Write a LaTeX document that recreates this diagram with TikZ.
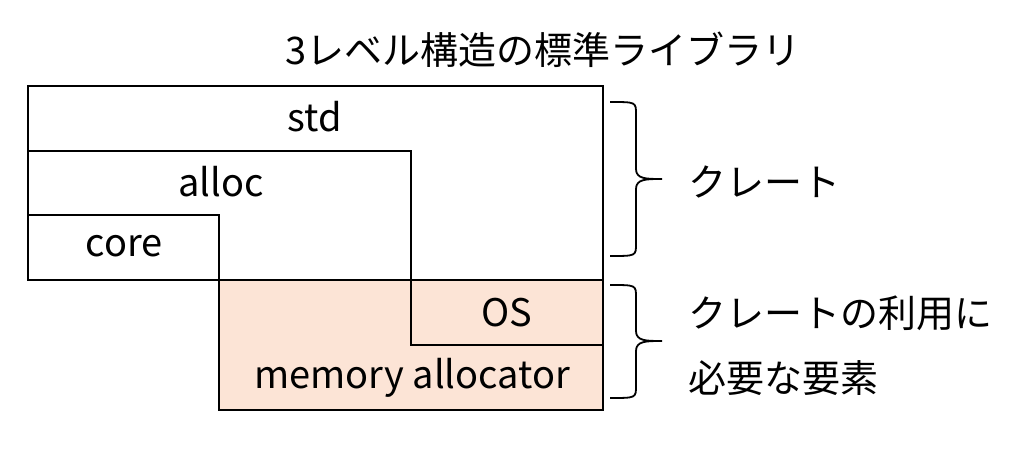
\documentclass[tikz,border=0pt]{standalone}
\usepackage{fontspec}
\setmainfont{Noto Sans CJK JP}
\usepackage{tikz}
\usepackage{xcolor}
\definecolor{peach}{HTML}{FCE4D6}

\begin{document}
\begin{tikzpicture}[x=1pt,y=-1pt,font=\fontsize{38}{42}\selectfont]
\useasboundingbox (0,0) rectangle (1025,454);
% system part
\fill[peach] (219,280) rectangle (603,410);
\draw[line width=1.3pt] (219,280) rectangle (603,410);
\draw[line width=1.3pt] (411,280) rectangle (603,345);
% crates
\draw[line width=1.3pt] (28,86) rectangle (603,280);
\draw[line width=1.3pt] (28,151) -- (411,151) -- (411,280);
\draw[line width=1.3pt] (28,215) -- (219,215) -- (219,280);
\node (title) at (543,50) {3レベル構造の標準ライブラリ};
\node (std) at (315,117) {std};
\node (alloc) at (221,182) {alloc};
\node (core) at (124,246) {core};
\node (os) at (507,313) {OS};
\node (mem) at (412,378) {memory allocator};
% braces
\foreach \a/\m/\b in {102/179/256, 285/341/398}
{
	\draw[line width=1.8pt] (610,\a) .. controls (636,\a) .. (636,\a+12) -- (636,\m-10) .. controls (636,\m) and (646,\m) .. (662,\m) .. controls (646,\m) and (636,\m) .. (636,\m+10) -- (636,\b-12) .. controls (636,\b) .. (610,\b);
}
\node[anchor=west] (crate) at (685,182) {クレート};
\node[anchor=west] (need1) at (685,313) {クレートの利用に};
\node[anchor=west] (need2) at (685,378) {必要な要素};
\end{tikzpicture}
\end{document}
